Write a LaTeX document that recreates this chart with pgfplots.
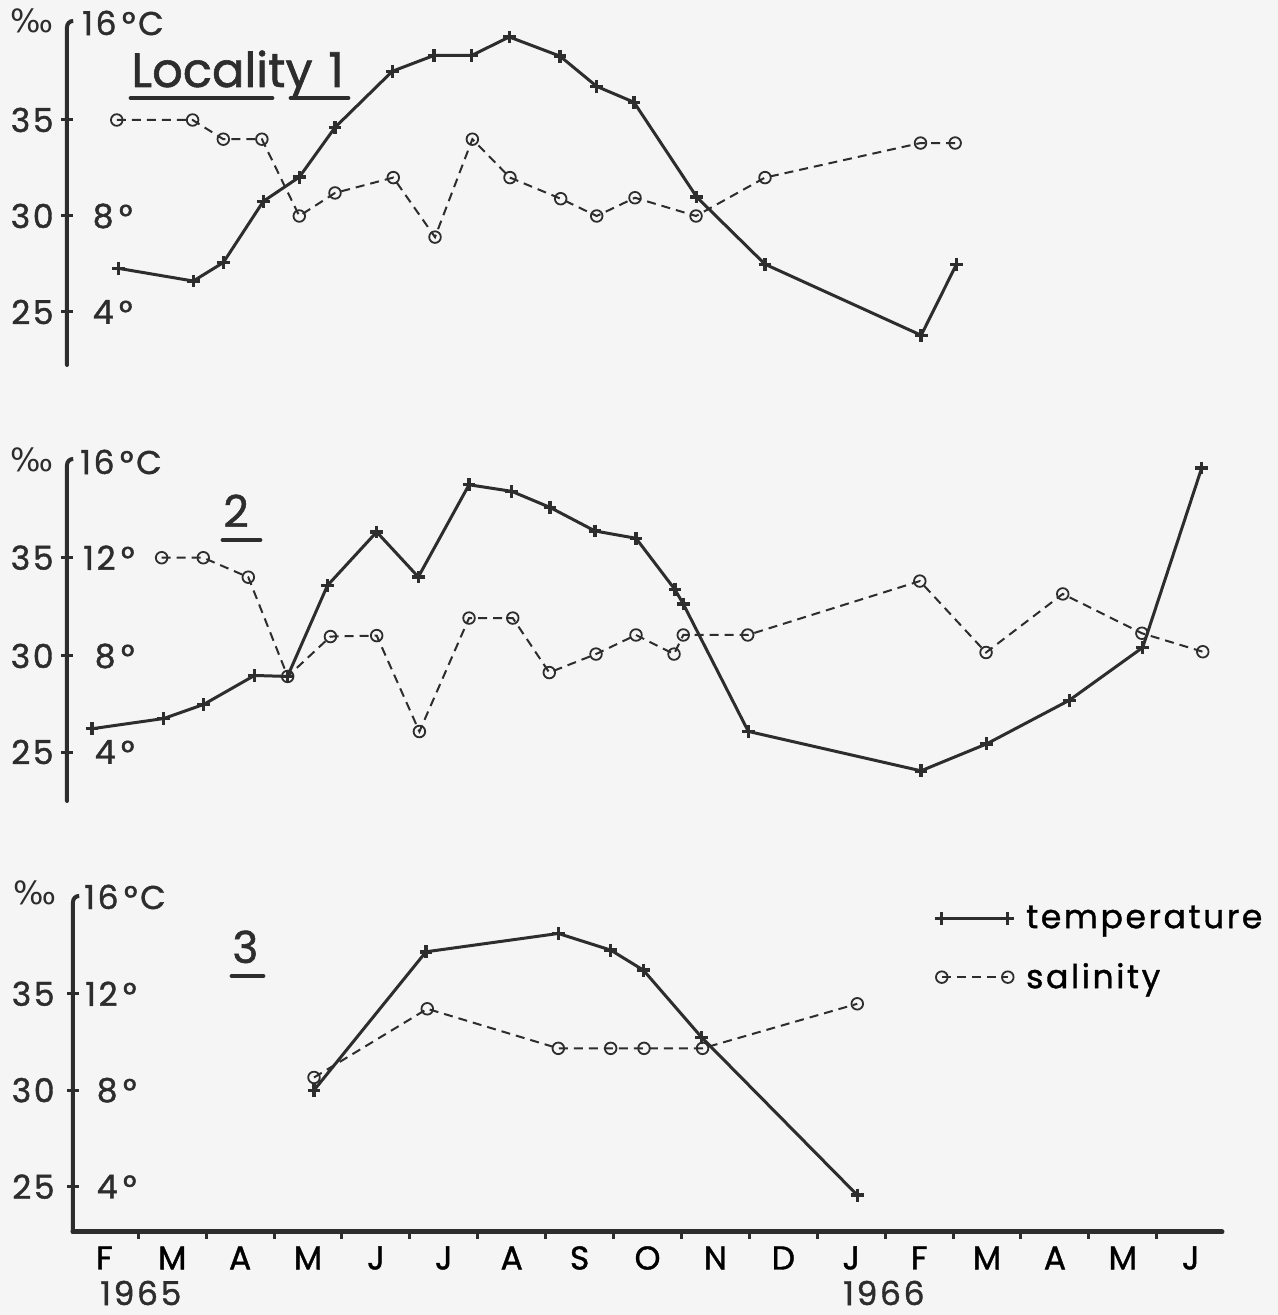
\documentclass[border=0pt]{standalone}
\usepackage{fontspec}
\setmainfont{Poppins}
\newfontfamily\lab[LetterSpace=8,FakeBold=1.2]{Poppins}
\newfontfamily\ttl[FakeBold=1.2]{Poppins}
\newfontfamily\dv{DejaVu Sans}
\usepackage{pgfplots}
\pgfplotsset{compat=1.18}
\usepackage{pgfplotstable}
\definecolor{ink}{RGB}{45,45,45}
\definecolor{bg}{RGB}{245,245,245}
\newcommand\tl{\lab\fontsize{16.5bp}{19bp}\selectfont}

% Locality 1
\pgfplotstableread{
x T
1.705 5.82
2.81 5.29
3.252 6.06
3.841 8.61
4.371 9.62
4.897 11.69
5.741 14.03
6.355 14.69
6.910 14.69
7.464 15.46
8.211 14.66
8.751 13.40
9.300 12.74
10.224 8.79
11.23 5.99
13.53 3.03
14.05 5.99
}\TempA
\pgfplotstableread{
x S
1.683 35.0
2.80 35.0
3.252 34.0
3.82 34.0
4.371 30.0
4.897 31.2
5.755 32.0
6.37 28.9
6.92 34.0
7.474 32.0
8.221 30.9
8.751 30.0
9.315 30.95
10.214 30.0
11.23 32.0
13.52 33.8
14.03 33.8
}\SalA
% Locality 2
\pgfplotstableread{
x T
1.318 4.97
2.374 5.39
2.963 5.97
3.711 7.16
4.197 7.12
4.786 10.86
5.511 13.06
6.124 11.21
6.871 15.00
7.499 14.73
8.063 14.07
8.726 13.10
9.330 12.80
9.904 10.69
10.026 10.10
10.984 4.86
13.527 3.24
14.495 4.35
15.711 6.14
16.792 8.31
17.661 15.69
}\TempB
\pgfplotstableread{
x S
2.344 35.0
2.957 35.0
3.62 34.0
4.20 28.9
4.83 30.95
5.511 31.0
6.14 26.07
6.871 31.9
7.515 31.9
8.053 29.1
8.741 30.05
9.330 31.03
9.890 30.05
10.026 31.03
10.975 31.03
13.51 33.8
14.485 30.13
15.615 33.14
16.78 31.12
17.677 30.17
}\SalB
% Locality 3
\pgfplotstableread{
x T
4.588 8.0
6.237 13.74
8.186 14.5
8.958 13.81
9.438 12.98
10.297 10.19
12.589 3.65
}\TempC
\pgfplotstableread{
x S
4.588 30.66
6.256 34.22
8.186 32.17
8.957 32.17
9.448 32.17
10.31 32.17
12.589 34.48
}\SalC

\pgfplotsset{
  panel/.style={
    x=33.95bp, xmax=17.96, ymax=40.05, clip=false,
    anchor=south west,
    axis y line*=left, axis line style={draw=none},
    ytick={25,30,35}, yticklabels={,,}, ytick align=center,
    major tick length=6bp,
    every tick/.style={ink, line width=1.5bp},
  },
  temp/.style={ink, line width=1.5bp, mark=+, mark size=3.2bp,
    mark options={line width=1.7bp, solid}},
  sal/.style={ink, line width=1bp, dash pattern=on 4.5bp off 3bp, mark=o,
    mark size=2.9bp, mark options={solid, line width=0.9bp, fill=bg}},
}

\begin{document}
\begin{tikzpicture}
\fill[bg] (0,0) rectangle (639bp,657.5bp);
\useasboundingbox (0,0) rectangle (639bp,657.5bp);

% ---------- panel 1
\begin{axis}[panel, at={(33.5bp,475bp)}, xmin=0.95, ymin=22.24, y=9.6bp,
  axis x line=none, xtick=\empty]
\addplot[sal] table[x=x,y=S] {\SalA};
\addplot[temp] table[x=x,y expr={20+1.25*\thisrow{T}}] {\TempA};
\end{axis}

% ---------- panel 2
\begin{axis}[panel, at={(33.5bp,257bp)}, xmin=0.95, ymin=22.50, y=9.73bp,
  axis x line=none, xtick=\empty]
\addplot[sal] table[x=x,y=S] {\SalB};
\addplot[temp] table[x=x,y expr={20+1.25*\thisrow{T}}] {\TempB};
\end{axis}

% ---------- panel 3
\begin{axis}[panel, at={(36.55bp,41.5bp)}, xmin=1.04, ymin=22.65, y=9.645bp,
  axis x line*=bottom,
  xtick={1.5,2.5,...,17.5},
  xticklabels={F,M,A,M,J,J,A,S,O,N,D,J,F,M,A,M,J},
  xtick align=outside,
  minor xtick={2,3,...,17},
  major x tick style={draw=none},
  minor tick length=3.5bp,
  xticklabel style={font=\tl, anchor=center, yshift=-7bp},
  reverse legend,
  legend cell align=left,
  legend style={draw=none, fill=none, at={(0.745,0.845)}, anchor=west,
    font=\lab\fontsize{16.5bp}{20bp}\selectfont, row sep=12bp,
    nodes={inner xsep=6bp}},
]
\addplot[sal, legend image code/.code={\draw[mark repeat=1] plot coordinates {(0bp,0bp) (33bp,0bp)};}]
  table[x=x,y=S] {\SalC};
\addlegendentry{salinity}
\addplot[temp, legend image code/.code={\draw[mark repeat=1] plot coordinates {(0bp,0bp) (33bp,0bp)};}]
  table[x=x,y expr={20+1.25*\thisrow{T}}] {\TempC};
\addlegendentry{temperature}
\end{axis}

% ---------- hand-lettered parts, in pixel units of the reference
\begin{scope}[x=0.5bp, y=-0.5bp, shift={(0bp,657.5bp)}]
  % axis lines
  \draw[ink, line width=2bp, rounded corners=3bp, line cap=round] (73,21) -- (67,21) -- (67,365);
  \draw[ink, line width=2bp, rounded corners=3bp, line cap=round] (73,459) -- (67,459) -- (67,801);
  \draw[ink, line width=2bp, rounded corners=3bp, line cap=round] (79,896) -- (73,896) -- (73,1232);
  \draw[ink, line width=2.5bp, line cap=round] (73,1232) -- (1222,1232);
  % panel 1 labels
  \node[ink, anchor=base east, font=\dv\fontsize{16bp}{18bp}\selectfont, inner sep=0] at (54,33) {‰};
  \node[ink, anchor=west, font=\tl, inner sep=0] at (82,23) {16\,°C};
  \node[ink, anchor=east, font=\tl, inner sep=0] at (54,120) {35};
  \node[ink, anchor=east, font=\tl, inner sep=0] at (54,216) {30};
  \node[ink, anchor=east, font=\tl, inner sep=0] at (54,312) {25};
  \node[ink, anchor=east, font=\tl, inner sep=0] at (133,216) {8\,°};
  \node[ink, anchor=east, font=\tl, inner sep=0] at (133,312) {4\,°};
  % panel 2 labels
  \node[ink, anchor=base east, font=\dv\fontsize{16bp}{18bp}\selectfont, inner sep=0] at (54,472) {‰};
  \node[ink, anchor=west, font=\tl, inner sep=0] at (80,462) {16\,°C};
  \node[ink, anchor=east, font=\tl, inner sep=0] at (54,557.7) {35};
  \node[ink, anchor=east, font=\tl, inner sep=0] at (54,656) {30};
  \node[ink, anchor=east, font=\tl, inner sep=0] at (54,752) {25};
  \node[ink, anchor=east, font=\tl, inner sep=0] at (135,557.7) {12\,°};
  \node[ink, anchor=east, font=\tl, inner sep=0] at (135,656) {8\,°};
  \node[ink, anchor=east, font=\tl, inner sep=0] at (135,752) {4\,°};
  % panel 3 labels
  \node[ink, anchor=base east, font=\dv\fontsize{16bp}{18bp}\selectfont, inner sep=0] at (57,905) {‰};
  \node[ink, anchor=west, font=\tl, inner sep=0] at (84,897) {16\,°C};
  \node[ink, anchor=east, font=\tl, inner sep=0] at (55,993.8) {35};
  \node[ink, anchor=east, font=\tl, inner sep=0] at (55,1090.2) {30};
  \node[ink, anchor=east, font=\tl, inner sep=0] at (55,1186.7) {25};
  \node[ink, anchor=east, font=\tl, inner sep=0] at (137,993.8) {12\,°};
  \node[ink, anchor=east, font=\tl, inner sep=0] at (137,1090.2) {8\,°};
  \node[ink, anchor=east, font=\tl, inner sep=0] at (137,1186.7) {4\,°};
  % years
  \node[ink, anchor=west, font=\tl, inner sep=0] at (100,1293) {1965};
  \node[ink, anchor=west, font=\tl, inner sep=0] at (843,1293) {1966};
  % titles
  \node[ink, anchor=base west, font=\ttl\fontsize{24bp}{27bp}\selectfont, inner sep=0] at (131,87) {Locality};
  \node[ink, anchor=base west, font=\ttl\fontsize{24bp}{27bp}\selectfont, inner sep=0] at (328,87) {1};
  \draw[ink, line width=2.4bp, line cap=round] (131,98) -- (272,98);
  \draw[ink, line width=2.4bp, line cap=round] (291,98) -- (348,98);
  \node[ink, anchor=base west, font=\ttl\fontsize{22bp}{26bp}\selectfont, inner sep=0] at (223,527) {2};
  \draw[ink, line width=2.4bp, line cap=round] (223,540) -- (260,540);
  \node[ink, anchor=base west, font=\ttl\fontsize{22bp}{26bp}\selectfont, inner sep=0] at (232,963) {3};
  \draw[ink, line width=2.4bp, line cap=round] (232,976) -- (263,976);
\end{scope}
\end{tikzpicture}
\end{document}
